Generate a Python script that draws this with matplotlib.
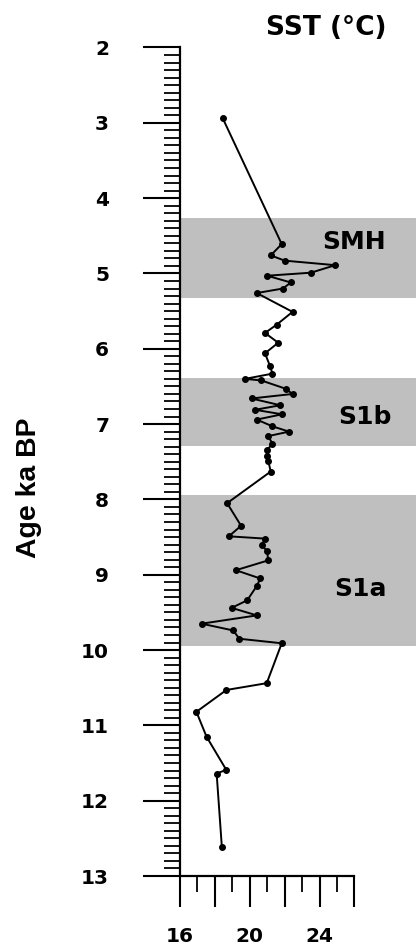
import matplotlib
matplotlib.use("Agg")
import matplotlib.pyplot as plt
from matplotlib.ticker import MultipleLocator, FixedLocator

# Sea-surface temperature record against age
age_ka = [2.94, 4.61, 4.76, 4.83, 4.89, 4.99, 5.03, 5.12, 5.20, 5.26,
          5.51, 5.68, 5.79, 5.92, 6.06, 6.23, 6.33, 6.40, 6.42, 6.53,
          6.60, 6.66, 6.75, 6.81, 6.87, 6.94, 7.03, 7.10, 7.16, 7.26,
          7.34, 7.43, 7.49, 7.63, 8.05, 8.35, 8.49, 8.52, 8.61, 8.69,
          8.81, 8.94, 9.05, 9.15, 9.34, 9.44, 9.54, 9.65, 9.74, 9.85,
          9.91, 10.44, 10.53, 10.82, 11.15, 11.59, 11.64, 12.62]
sst_c = [18.45, 21.83, 21.20, 22.00, 24.90, 23.50, 21.00, 22.35, 21.90, 20.40,
         22.45, 21.54, 20.87, 21.63, 20.87, 21.16, 21.30, 19.72, 20.65, 22.05,
         22.45, 20.10, 21.75, 20.30, 21.85, 20.40, 21.30, 22.25, 21.05, 21.30,
         21.00, 21.00, 21.06, 21.20, 18.70, 19.50, 18.80, 20.85, 20.70, 21.00,
         21.05, 19.20, 20.60, 20.40, 19.85, 18.96, 20.40, 17.24, 19.05, 19.40,
         21.83, 20.97, 18.66, 16.94, 17.52, 18.65, 18.10, 18.40]

# Shaded intervals (ka BP) and their names
band_names = ["SMH", "S1b", "S1a"]
band_top = [4.27, 6.39, 7.94]
band_bottom = [5.33, 7.29, 9.94]

x_major = [16, 18, 20, 22, 24, 26]
x_labels = ["16", "", "20", "", "24", ""]
x_minor = [17, 19, 21, 23, 25]

W, H = 416, 950
fig = plt.figure(figsize=(W / 100, H / 100), dpi=100)
ax = fig.add_axes([180 / W, 1 - 876 / H, 1 - 180 / W, (876 - 47.5) / H])

band_color = "#bfbfbf"
for top, bot in zip(band_top, band_bottom):
    ax.axhspan(top, bot, color=band_color, lw=0, zorder=0)

ax.plot(sst_c, age_ka, color="black", lw=1.4, marker="o", ms=4.0,
        mfc="black", mec="black", zorder=3)

ax.set_xlim(16, 16 + (W - 180) / 17.45)
ax.set_ylim(13, 2)

for s in ("top", "right"):
    ax.spines[s].set_visible(False)
ax.spines["left"].set_linewidth(1.6)
ax.spines["bottom"].set_linewidth(1.6)
ax.spines["bottom"].set_bounds(16, 26)

ax.set_xticks(x_major)
ax.set_xticklabels(x_labels)
ax.xaxis.set_minor_locator(FixedLocator(x_minor))
ax.yaxis.set_major_locator(MultipleLocator(1))
ax.yaxis.set_minor_locator(MultipleLocator(0.1))

ax.tick_params(axis="y", which="major", direction="out", length=27, width=1.5,
               pad=24, labelsize=14.5)
ax.tick_params(axis="y", which="minor", direction="out", length=11.5, width=1.3)
ax.tick_params(axis="x", which="major", direction="out", length=22, width=1.5,
               pad=15, labelsize=14.5)
ax.tick_params(axis="x", which="minor", direction="out", length=11.5, width=1.3)

for lab in ax.get_xticklabels() + ax.get_yticklabels():
    lab.set_fontfamily("DejaVu Sans")
    lab.set_fontweight("bold")

fig.text(29 / W, 1 - 488 / H, "Age ka BP", rotation=90, ha="center", va="center",
         fontsize=20.4, fontweight="bold", family="Liberation Sans")
fig.text(326 / W, 1 - 28 / H, "SST (°C)", ha="center", va="center",
         fontsize=19, fontweight="bold", family="DejaVu Sans")

label_pos = [(354, 242), (365, 417), (361, 589)]
for name, (px, py) in zip(band_names, label_pos):
    fig.text(px / W, 1 - py / H, name, ha="center", va="center",
             fontsize=18, fontweight="bold", family="DejaVu Sans")

fig.savefig("out.png", dpi=100)
